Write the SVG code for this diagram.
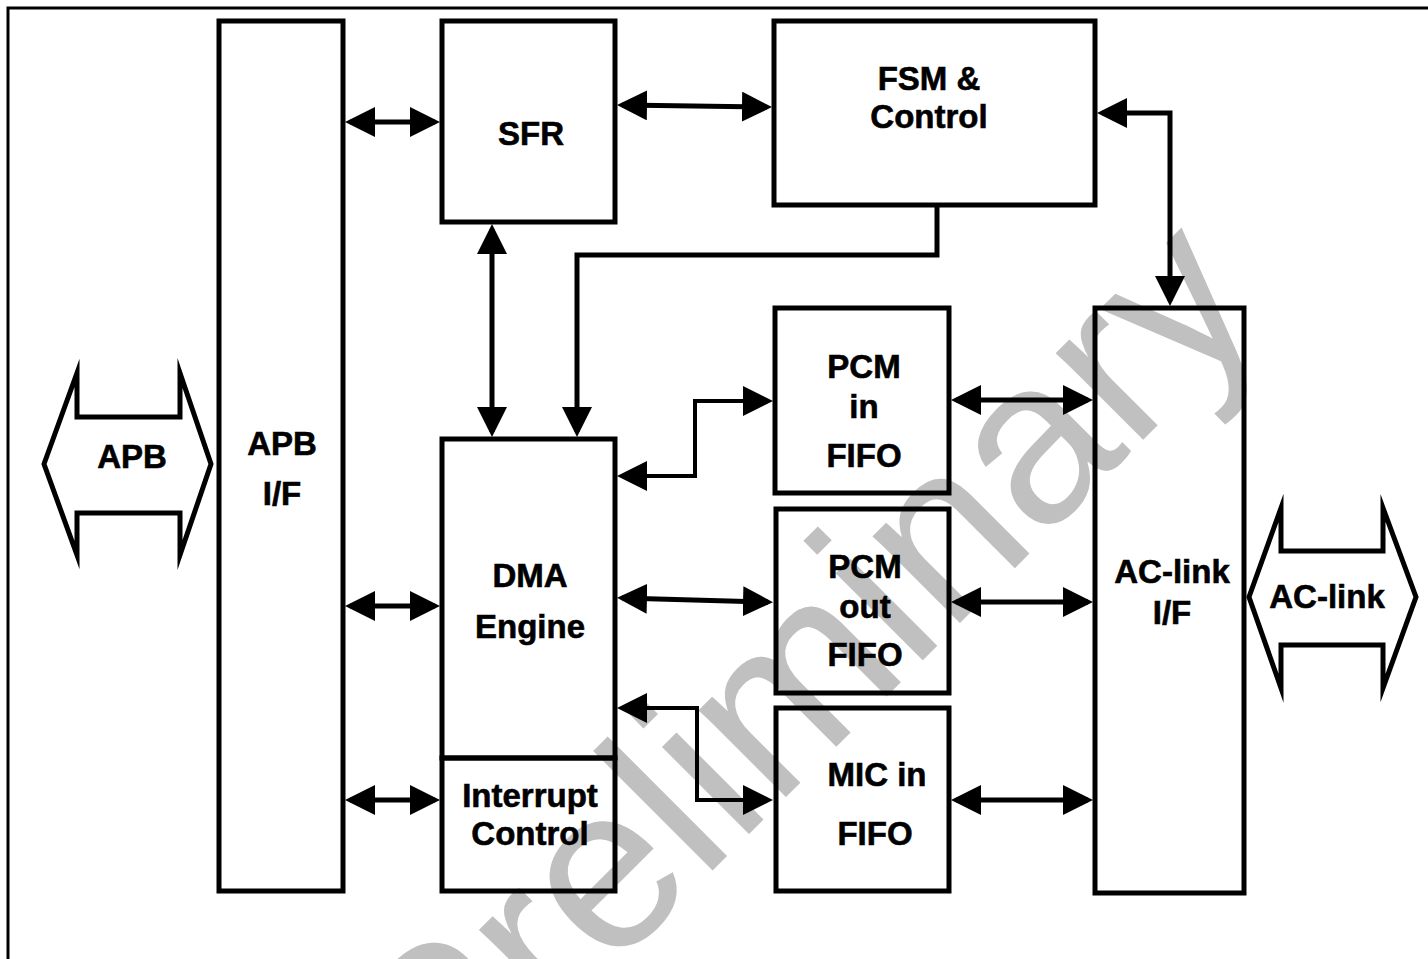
<svg xmlns="http://www.w3.org/2000/svg" width="1428" height="959" viewBox="0 0 1428 959">
<style>
.bg{fill:#ffffff}
.wm{font-family:'Liberation Sans',Arial,sans-serif;font-size:233px;fill:#c0c0c0}
.box{fill:none;stroke:#000;stroke-width:5}
.big{fill:none;stroke:#000;stroke-width:5;stroke-linejoin:miter;stroke-miterlimit:20}
.lbl{font-family:'Liberation Sans',Arial,sans-serif;font-size:33px;font-weight:bold;fill:#000;stroke:#000;stroke-width:0.6;text-anchor:middle}
.con{fill:none;stroke:#000;stroke-width:5}
.con2{fill:none;stroke:#000;stroke-width:4}
.frame{fill:none;stroke:#000;stroke-width:3}
</style>
<defs>
<marker id="ah" markerUnits="userSpaceOnUse" markerWidth="30" markerHeight="30" refX="25" refY="15" orient="auto-start-reverse">
<path d="M0,0 L30,15 L0,30 z" fill="#000"/>
</marker>
</defs>
<rect class="bg" x="0" y="0" width="1428" height="959"/>
<text class="wm" x="445" y="1138" transform="rotate(-45 445 1138)">Preliminary</text>
<g id="frame">
<path class="frame" d="M8,959 V8 H1428"/>
</g>
<g id="apb-bus">
<polygon class="big" points="44,464 77,373 77,417 180,417 180,373 211,464 180,555 180,513 77,513 77,555"/>
<text class="lbl" x="132" y="468">APB</text>
</g>
<g id="acl-bus">
<polygon class="big" points="1249,597 1281,508 1281,551 1383,551 1383,508 1416,597 1383,688 1383,645 1281,645 1281,688"/>
<text class="lbl" x="1327" y="608">AC-link</text>
</g>
<g id="apb-if">
<rect class="box" x="219" y="21" width="124" height="870"/>
<text class="lbl" x="282" y="455">APB</text>
<text class="lbl" x="282" y="505">I/F</text>
</g>
<g id="sfr">
<rect class="box" x="442" y="21" width="173" height="201"/>
<text class="lbl" x="531" y="145">SFR</text>
</g>
<g id="fsm">
<rect class="box" x="774" y="21" width="321" height="184"/>
<text class="lbl" x="929" y="90">FSM &amp;</text>
<text class="lbl" x="929" y="128">Control</text>
</g>
<g id="dma">
<rect class="box" x="442" y="439" width="173" height="319"/>
<text class="lbl" x="530" y="587">DMA</text>
<text class="lbl" x="530" y="638">Engine</text>
</g>
<g id="interrupt">
<rect class="box" x="442" y="758" width="173" height="133"/>
<text class="lbl" x="530" y="807">Interrupt</text>
<text class="lbl" x="530" y="845">Control</text>
</g>
<g id="pcm-in">
<rect class="box" x="775" y="308" width="174" height="185"/>
<text class="lbl" x="864" y="378">PCM</text>
<text class="lbl" x="864" y="418">in</text>
<text class="lbl" x="864" y="467">FIFO</text>
</g>
<g id="pcm-out">
<rect class="box" x="776" y="509" width="173" height="184"/>
<text class="lbl" x="865" y="578">PCM</text>
<text class="lbl" x="865" y="618">out</text>
<text class="lbl" x="865" y="666">FIFO</text>
</g>
<g id="mic-in">
<rect class="box" x="776" y="708" width="173" height="183"/>
<text class="lbl" x="877" y="786">MIC in</text>
<text class="lbl" x="875" y="845">FIFO</text>
</g>
<g id="ac-link-if">
<rect class="box" x="1095" y="308" width="149" height="585"/>
<text class="lbl" x="1172" y="583">AC-link</text>
<text class="lbl" x="1172" y="624">I/F</text>
</g>
<g id="connectors">
<path class="con" d="M350,122 H435" marker-start="url(#ah)" marker-end="url(#ah)"/>
<path class="con" d="M622,105 L767,107" marker-start="url(#ah)" marker-end="url(#ah)"/>
<path class="con" d="M1102,113 H1170 V301" marker-start="url(#ah)" marker-end="url(#ah)"/>
<path class="con" d="M492,229 V432" marker-start="url(#ah)" marker-end="url(#ah)"/>
<path class="con" d="M937,207 V255 H577 V432" marker-end="url(#ah)"/>
<path class="con" d="M350,606 H435" marker-start="url(#ah)" marker-end="url(#ah)"/>
<path class="con" d="M350,800 H435" marker-start="url(#ah)" marker-end="url(#ah)"/>
<path class="con2" d="M622,476 H695 V401 H768" marker-start="url(#ah)" marker-end="url(#ah)"/>
<path class="con" d="M622,598 L768,602" marker-start="url(#ah)" marker-end="url(#ah)"/>
<path class="con2" d="M622,708 H697 V800 H768" marker-start="url(#ah)" marker-end="url(#ah)"/>
<path class="con" d="M956,400 H1088" marker-start="url(#ah)" marker-end="url(#ah)"/>
<path class="con" d="M956,602 H1088" marker-start="url(#ah)" marker-end="url(#ah)"/>
<path class="con" d="M956,800 H1088" marker-start="url(#ah)" marker-end="url(#ah)"/>
</g>
</svg>
